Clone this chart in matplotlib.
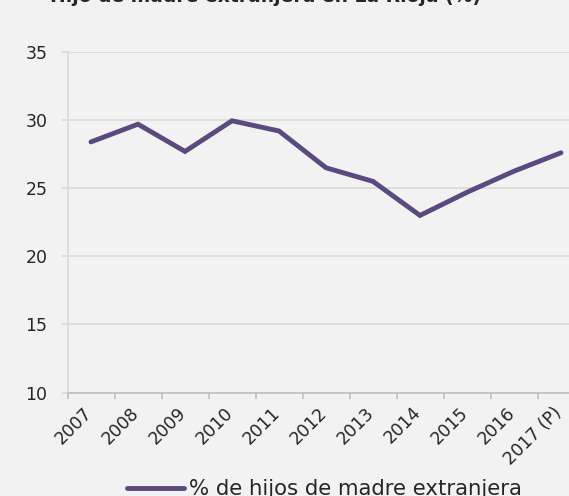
import numpy as np
import matplotlib
matplotlib.use('Agg')
import matplotlib.pyplot as plt
import matplotlib.transforms as mtransforms
from matplotlib.ticker import FixedLocator, NullFormatter

# Data
years = ['2007', '2008', '2009', '2010', '2011', '2012', '2013', '2014',
         '2015', '2016', '2017 (P)']
pct_madre_extranjera = [28.4, 29.7, 27.7, 29.95, 29.2, 26.5, 25.5, 23.0,
                        24.7, 26.25, 27.6]
y_ticks = [10, 15, 20, 25, 30, 35]

title_txt = 'Hijo de madre extranjera en La Rioja (%)'
legend_txt = '% de hijos de madre extranjera'

bg = '#f2f2f2'
line_col = '#5b4a7e'
grid_col = '#d9d9d9'
txt_col = '#262626'

plt.rcParams['font.family'] = ['DejaVu Sans']

fig = plt.figure(figsize=(5.69, 4.96), dpi=100, facecolor=bg)
ax = fig.add_axes([67.5/569, 103.5/496, 517/569, 340.5/496], facecolor=bg)

x = np.arange(len(years))
ax.plot(x, pct_madre_extranjera, color=line_col, lw=3.5,
        solid_capstyle='round', solid_joinstyle='miter', label=legend_txt,
        zorder=3)

ax.set_xlim(-0.5, len(years) - 0.5)
ax.set_ylim(10, 35)
ax.set_yticks(y_ticks)
ax.yaxis.grid(True, color=grid_col, lw=1.2)
ax.set_axisbelow(True)

# category labels at centres, tick marks between categories
ax.set_xticks(x)
ax.set_xticklabels(years, rotation=45, ha='right', rotation_mode='anchor',
                   fontsize=12.5, color=txt_col)
ax.xaxis.set_minor_locator(FixedLocator(np.arange(-0.5, len(years), 1.0)))
ax.xaxis.set_minor_formatter(NullFormatter())
ax.tick_params(axis='x', which='major', length=0, pad=12.5)
ax.tick_params(axis='x', which='minor', length=4.5, width=1.2,
               color='#bfbfbf', direction='out')
ax.tick_params(axis='y', length=4.5, width=1.2, color=grid_col, pad=10,
               labelsize=12.5, labelcolor=txt_col)
shift = mtransforms.ScaledTranslation(-2/100, 0, fig.dpi_scale_trans)
for lbl in ax.get_xticklabels():
    lbl.set_va('center')
    lbl.set_transform(lbl.get_transform() + shift)

for s in ['top', 'right']:
    ax.spines[s].set_visible(False)
ax.spines['left'].set_color(grid_col)
ax.spines['left'].set_linewidth(1.2)
ax.spines['bottom'].set_color('#bfbfbf')
ax.spines['bottom'].set_linewidth(1.2)

fig.text(265/569, 1 - 2.5/496, title_txt, ha='center', va='baseline',
         fontsize=13.5, fontweight='bold', color=txt_col)

fig.legend(loc='center left', bbox_to_anchor=(127/569, 7/496), frameon=False,
           borderpad=0, borderaxespad=0, handlelength=2.7, handletextpad=0.2,
           fontsize=15.3, labelcolor=txt_col)

fig.savefig('out.png', dpi=100, facecolor=bg)
